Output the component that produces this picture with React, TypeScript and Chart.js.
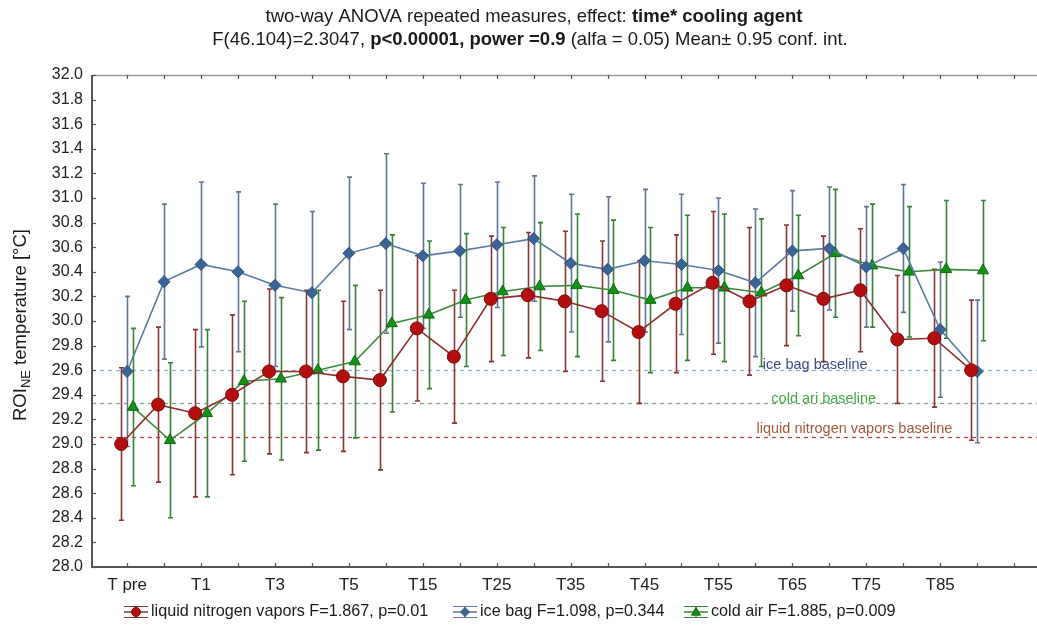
import React, { useEffect, useRef } from 'react';
import { Chart, registerables } from 'chart.js';

Chart.register(...registerables);

// ---- data ----
const tickLabels = ['T pre', '', 'T1', '', 'T3', '', 'T5', '', 'T15', '', 'T25', '', 'T35', '', 'T45', '', 'T55', '', 'T65', '', 'T75', '', 'T85', '', ''];

const nitrogenMeans = [29.0, 29.32, 29.25, 29.4, 29.59, 29.59, 29.55, 29.52, 29.94, 29.71, 30.18, 30.21, 30.16, 30.08, 29.91, 30.14, 30.31, 30.16, 30.29, 30.18, 30.25, 29.85, 29.86, 29.6];
const nitrogenCI = [0.62, 0.63, 0.68, 0.65, 0.67, 0.66, 0.61, 0.73, 0.59, 0.54, 0.51, 0.51, 0.57, 0.57, 0.58, 0.56, 0.58, 0.6, 0.49, 0.51, 0.5, 0.52, 0.56, 0.57];

const iceBagMeans = [29.59, 30.32, 30.46, 30.4, 30.29, 30.23, 30.55, 30.63, 30.53, 30.57, 30.62, 30.67, 30.47, 30.42, 30.49, 30.46, 30.41, 30.31, 30.57, 30.59, 30.44, 30.59, 29.93, 29.59];
const iceBagCI = [0.61, 0.63, 0.67, 0.65, 0.66, 0.66, 0.62, 0.73, 0.59, 0.54, 0.51, 0.51, 0.56, 0.59, 0.58, 0.57, 0.59, 0.6, 0.49, 0.5, 0.49, 0.52, 0.55, 0.58];

const coldAirMeans = [29.3, 29.03, 29.25, 29.51, 29.53, 29.6, 29.67, 29.98, 30.05, 30.17, 30.24, 30.28, 30.29, 30.25, 30.17, 30.27, 30.27, 30.23, 30.37, 30.55, 30.45, 30.4, 30.42, 30.41];
const coldAirCI = [0.64, 0.63, 0.68, 0.65, 0.66, 0.65, 0.62, 0.72, 0.6, 0.54, 0.52, 0.52, 0.58, 0.57, 0.59, 0.59, 0.6, 0.6, 0.49, 0.52, 0.5, 0.53, 0.56, 0.57];

const seriesNames = ['liquid nitrogen vapors F=1.867, p=0.01', 'ice bag F=1.098, p=0.344', 'cold air F=1.885, p=0.009'];

const baselineValues = [29.6, 29.33, 29.06];
const baselineNames = ['ice bag baseline', 'cold ari baseline', 'liquid nitrogen vapors baseline'];

const titleLine1 = [
  { text: 'two-way ANOVA repeated measures, effect: ', bold: false },
  { text: 'time* cooling agent', bold: true },
];
const titleLine2 = [
  { text: 'F(46.104)=2.3047, ', bold: false },
  { text: 'p<0.00001, power =0.9', bold: true },
  { text: ' (alfa = 0.05) Mean\u00b1 0.95 conf. int.', bold: false },
];

// ---- styles ----
const FONT = '"Liberation Sans", Arial, Helvetica, sans-serif';
const seriesStyles = [
  { line: '#8e2e2e', fill: '#b30f0f', border: '#7a0909', err: '#8a3434', shape: 'circle', radius: 6.5, shift: -0.16 },
  { line: '#5a7aa2', fill: '#3b6495', border: '#2b5080', err: '#627590', shape: 'rectRot', radius: 6, shift: 0 },
  { line: '#3c8a3c', fill: '#149019', border: '#0c6c11', err: '#338235', shape: 'triangle', radius: 6.5, shift: 0.16 },
];
const baselineStyles = [
  { line: '#8fb2c8', text: '#3d4a90', dx: 18.62, dy: -5 },
  { line: '#8a9c8a', text: '#45a845', dx: 18.85, dy: -4 },
  { line: '#b34a4a', text: '#a3583c', dx: 19.68, dy: -8 },
];
const legendStarts = [124, 453, 684];

function drawRich(ctx: CanvasRenderingContext2D, segs: { text: string; bold: boolean }[], cx: number, cy: number, size: number) {
  const fontOf = (b: boolean) => `${b ? 'bold ' : ''}${size}px ${FONT}`;
  let total = 0;
  segs.forEach((s) => {
    ctx.font = fontOf(s.bold);
    total += ctx.measureText(s.text).width;
  });
  let x = cx - total / 2;
  ctx.textAlign = 'left';
  ctx.textBaseline = 'middle';
  segs.forEach((s) => {
    ctx.font = fontOf(s.bold);
    ctx.fillText(s.text, x, cy);
    x += ctx.measureText(s.text).width;
  });
}

function drawMarker(ctx: CanvasRenderingContext2D, shape: string, x: number, y: number, r: number, fill: string, border: string) {
  ctx.beginPath();
  if (shape === 'circle') {
    ctx.arc(x, y, r, 0, Math.PI * 2);
  } else if (shape === 'rectRot') {
    ctx.moveTo(x, y - r);
    ctx.lineTo(x + r, y);
    ctx.lineTo(x, y + r);
    ctx.lineTo(x - r, y);
    ctx.closePath();
  } else {
    ctx.moveTo(x, y - r);
    ctx.lineTo(x + r, y + r * 0.7);
    ctx.lineTo(x - r, y + r * 0.7);
    ctx.closePath();
  }
  ctx.fillStyle = fill;
  ctx.fill();
  ctx.strokeStyle = border;
  ctx.lineWidth = 1;
  ctx.stroke();
}

const decorPlugin = {
  id: 'decor',
  beforeDatasetsDraw(chart: any) {
    const { ctx, chartArea: a, scales } = chart;
    const x = scales.x;
    const y = scales.y;
    ctx.save();
    // baselines
    baselineValues.forEach((v, i) => {
      const py = Math.round(y.getPixelForValue(v)) + 0.5;
      ctx.strokeStyle = baselineStyles[i].line;
      ctx.lineWidth = 1.3;
      ctx.setLineDash([4, 4]);
      ctx.beginPath();
      ctx.moveTo(a.left, py);
      ctx.lineTo(a.right, py);
      ctx.stroke();
    });
    ctx.setLineDash([]);
    // baseline labels
    baselineValues.forEach((v, i) => {
      const st = baselineStyles[i];
      ctx.font = `14.5px ${FONT}`;
      ctx.fillStyle = st.text;
      ctx.textAlign = 'center';
      ctx.textBaseline = 'middle';
      ctx.fillText(baselineNames[i], x.getPixelForValue(st.dx), y.getPixelForValue(v) + st.dy);
    });
    // error bars
    chart.data.datasets.forEach((ds: any, di: number) => {
      const st = seriesStyles[di];
      ctx.strokeStyle = st.err;
      ctx.lineWidth = 1.6;
      ds.data.forEach((p: any, i: number) => {
        const px = Math.round(x.getPixelForValue(p.x)) + 0.5;
        const top = y.getPixelForValue(p.y + ds.ci[i]);
        const bot = y.getPixelForValue(p.y - ds.ci[i]);
        ctx.beginPath();
        ctx.moveTo(px, top);
        ctx.lineTo(px, bot);
        ctx.moveTo(px - 2.5, top);
        ctx.lineTo(px + 2.5, top);
        ctx.moveTo(px - 2.5, bot);
        ctx.lineTo(px + 2.5, bot);
        ctx.stroke();
      });
    });
    ctx.restore();
  },
  afterDraw(chart: any) {
    const { ctx, chartArea: a, scales } = chart;
    const x = scales.x;
    const y = scales.y;
    ctx.save();
    // frame
    ctx.strokeStyle = '#9a9a9a';
    ctx.lineWidth = 1.5;
    ctx.beginPath();
    ctx.moveTo(a.left, a.top + 0.5);
    ctx.lineTo(a.right, a.top + 0.5);
    ctx.stroke();
    ctx.strokeStyle = '#555';
    ctx.lineWidth = 2;
    ctx.beginPath();
    ctx.moveTo(a.left, a.top);
    ctx.lineTo(a.left, a.bottom);
    ctx.lineTo(a.right, a.bottom);
    ctx.stroke();
    // inward ticks
    ctx.lineWidth = 1.2;
    ctx.strokeStyle = '#555';
    x.ticks.forEach((t: any) => {
      const px = Math.round(x.getPixelForValue(t.value)) + 0.5;
      ctx.beginPath();
      ctx.moveTo(px, a.bottom);
      ctx.lineTo(px, a.bottom - 4);
      ctx.moveTo(px, a.top);
      ctx.lineTo(px, a.top + 4);
      ctx.stroke();
    });
    y.ticks.forEach((t: any) => {
      const py = Math.round(y.getPixelForValue(t.value)) + 0.5;
      ctx.beginPath();
      ctx.moveTo(a.left, py);
      ctx.lineTo(a.left + 4, py);
      ctx.stroke();
    });
    // title
    ctx.fillStyle = '#1a1a1a';
    drawRich(ctx, titleLine1, 534, 17, 18.5);
    drawRich(ctx, titleLine2, 530, 40, 18.5);
    // y-axis title
    ctx.save();
    ctx.translate(21, 325);
    ctx.rotate(-Math.PI / 2);
    const big = `18.5px ${FONT}`;
    const small = `13px ${FONT}`;
    const parts = [
      { t: 'ROI', f: big, dy: 0 },
      { t: 'NE', f: small, dy: 5 },
      { t: ' temperature [\u00b0C]', f: big, dy: 0 },
    ];
    let w = 0;
    parts.forEach((p) => { ctx.font = p.f; w += ctx.measureText(p.t).width; });
    let cx = -w / 2;
    ctx.textAlign = 'left';
    ctx.textBaseline = 'middle';
    ctx.fillStyle = '#1a1a1a';
    parts.forEach((p) => {
      ctx.font = p.f;
      ctx.fillText(p.t, cx, p.dy);
      cx += ctx.measureText(p.t).width;
    });
    ctx.restore();
    // legend
    const ly = 612;
    seriesNames.forEach((name, i) => {
      const lx = legendStarts[i];
      const st = seriesStyles[i];
      const iconW = 24;
      const icx = lx + iconW / 2;
      ctx.strokeStyle = st.err;
      ctx.lineWidth = 1.2;
      ctx.beginPath();
      ctx.moveTo(lx, ly - 5.5); ctx.lineTo(lx + iconW, ly - 5.5);
      ctx.moveTo(lx, ly + 5.5); ctx.lineTo(lx + iconW, ly + 5.5);
      ctx.moveTo(icx, ly - 5.5); ctx.lineTo(icx, ly + 5.5);
      ctx.stroke();
      ctx.strokeStyle = st.line;
      ctx.lineWidth = 1.5;
      ctx.beginPath();
      ctx.moveTo(lx, ly); ctx.lineTo(lx + iconW, ly);
      ctx.stroke();
      drawMarker(ctx, st.shape, icx, ly, 4.5, st.fill, st.border);
      ctx.fillStyle = '#1a1a1a';
      ctx.textAlign = 'left';
      ctx.textBaseline = 'middle';
      ctx.font = `16.2px ${FONT}`;
      ctx.fillText(name, lx + iconW + 3, ly);
    });
    ctx.restore();
  },
};

export default function App() {
  const ref = useRef<HTMLCanvasElement | null>(null);
  useEffect(() => {
    document.body.style.margin = '0';
    const canvas = ref.current;
    if (!canvas) return;
    const means = [nitrogenMeans, iceBagMeans, coldAirMeans];
    const cis = [nitrogenCI, iceBagCI, coldAirCI];
    const datasets = means.map((m, di) => {
      const st = seriesStyles[di];
      return {
        label: seriesNames[di],
        data: m.map((v, i) => ({ x: i + st.shift, y: v })),
        ci: cis[di],
        borderColor: st.line,
        borderWidth: 1.6,
        backgroundColor: st.fill,
        pointBackgroundColor: st.fill,
        pointBorderColor: st.border,
        pointBorderWidth: 1,
        pointStyle: st.shape,
        pointRadius: st.radius,
        tension: 0,
        fill: false,
      } as any;
    });
    const chart = new Chart(canvas, {
      type: 'line',
      data: { datasets },
      options: {
        animation: false,
        responsive: false,
        devicePixelRatio: 1,
        layout: { autoPadding: false, padding: { left: 0, right: 0, top: 75, bottom: 0 } },
        plugins: { legend: { display: false }, title: { display: false }, tooltip: { enabled: false } },
        scales: {
          x: {
            type: 'linear',
            min: -0.95,
            max: 24.62,
            afterBuildTicks: (s: any) => {
              s.ticks = tickLabels.map((_, i) => ({ value: i }));
            },
            afterFit: (s: any) => { s.height = 59; },
            grid: { display: false },
            border: { display: false },
            ticks: {
              autoSkip: false,
              maxRotation: 0,
              padding: 0,
              color: '#222',
              font: { size: 17, family: FONT },
              callback: (_v: any, i: number) => tickLabels[i] ?? '',
            },
          },
          y: {
            min: 28,
            max: 32,
            afterFit: (s: any) => { s.width = 92; },
            grid: { display: false },
            border: { display: false },
            ticks: {
              stepSize: 0.2,
              maxTicksLimit: 30,
              padding: 1,
              color: '#222',
              font: { size: 16, family: FONT },
              callback: (v: any) => Number(v).toFixed(1),
            },
          },
        },
      },
      plugins: [decorPlugin],
    });
    return () => chart.destroy();
  }, []);
  return (
    <div style={{ position: 'fixed', left: 0, top: 0, width: 1037, height: 626, background: '#fff' }}>
      <canvas ref={ref} width={1037} height={626} style={{ display: 'block' }} />
    </div>
  );
}
